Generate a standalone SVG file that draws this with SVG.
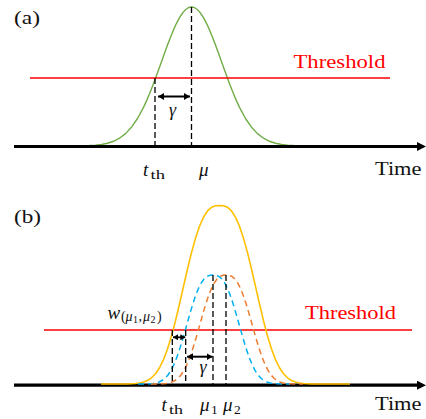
<svg xmlns="http://www.w3.org/2000/svg" width="426" height="419" viewBox="0 0 426 419">
<defs>
<style>
.axis{stroke:#000;stroke-width:3.2;fill:none;marker-end:url(#axhead)}
.thr{stroke:#ff0000;stroke-width:1.5;fill:none}
.vd{stroke:#000;stroke-width:1.3;stroke-dasharray:6 3;fill:none}
.dbl{stroke:#000;stroke-width:2;fill:none;marker-start:url(#dh);marker-end:url(#dh)}
.dbl2{stroke:#000;stroke-width:1.8;fill:none;marker-start:url(#dh2);marker-end:url(#dh2)}
.green{stroke:#70ad47;stroke-width:1.4;fill:none;stroke-linejoin:round}
.yellow{stroke:#ffc000;stroke-width:1.6;fill:none;stroke-linejoin:round}
.blue{stroke:#00b0f0;stroke-width:1.5;fill:none;stroke-dasharray:6 4}
.orange{stroke:#ed7d31;stroke-width:1.5;fill:none;stroke-dasharray:6 4}
.t{font-family:"Liberation Serif","Times New Roman",serif;fill:#111}
.it{font-style:italic}
.red{fill:#ff0000}
</style>
<marker id="axhead" markerUnits="userSpaceOnUse" viewBox="0 0 9 9" markerWidth="9" markerHeight="9" refX="1" refY="4.5" orient="auto">
<path d="M0,0 L9,4.5 L0,9 z" fill="#000"/>
</marker>
<marker id="dh" markerUnits="userSpaceOnUse" viewBox="0 0 6 7" markerWidth="6" markerHeight="7" refX="6" refY="3.5" orient="auto-start-reverse">
<path d="M0,0 L6,3.5 L0,7 z" fill="#000"/>
</marker>
<marker id="dh2" markerUnits="userSpaceOnUse" viewBox="0 0 5 6" markerWidth="5" markerHeight="6" refX="5" refY="3" orient="auto-start-reverse">
<path d="M0,0 L5,3 L0,6 z" fill="#000"/>
</marker>
<polyline id="bell" points="138,384 141,384 147,383.87 150,383.72 153,383.43 156,382.9 159,381.99 162,380.52 165,378.24 168,374.93 171,370.36 174,364.37 177,356.9 180,348.08 183,338.17 186,327.6 189,316.89 192,306.63 195,297.36 198,289.52 201,283.38 204,279.05 207,276.43 210,275.24 213,275 216,275.24 219,276.43 222,279.05 225,283.38 228,289.52 231,297.36 234,306.63 237,316.89 240,327.6 243,338.17 246,348.08 249,356.9 252,364.37 255,370.36 258,374.93 261,378.24 264,380.52 267,381.99 270,382.9 273,383.43 276,383.72 279,383.87 285,384 290,384"/>
</defs>

<g id="panel-a">
  <text class="t" x="14" y="23.5" font-size="19" textLength="26" lengthAdjust="spacingAndGlyphs">(a)</text>
  <polyline id="curve-a" class="green" points="77.5,145.9 83.5,145.79 89.5,145.57 95.5,145.17 101.5,144.46 107.5,143.24 113.5,141.27 119.5,138.2 125.5,133.64 131.5,127.19 137.5,118.49 143.5,107.35 146.5,100.87 149.5,93.83 152.5,86.29 155.5,78.34 158.5,70.1 161.5,61.69 164.5,53.29 167.5,45.07 170.5,37.2 173.5,29.9 176.5,23.33 179.5,17.69 181.5,14.51 183.5,11.86 185.5,9.75 187.5,8.23 189.5,7.31 191.5,7 193.5,7.31 195.5,8.23 197.5,9.75 199.5,11.86 201.5,14.51 203.5,17.69 206.5,23.33 209.5,29.9 212.5,37.2 215.5,45.07 218.5,53.29 221.5,61.69 224.5,70.1 227.5,78.34 230.5,86.29 233.5,93.83 236.5,100.87 239.5,107.35 245.5,118.49 251.5,127.19 257.5,133.64 263.5,138.2 269.5,141.27 275.5,143.24 281.5,144.46 287.5,145.17 293.5,145.57 299.5,145.79 305.5,145.9"/>
  <line id="threshold-a" class="thr" x1="30" y1="78" x2="390" y2="78"/>
  <text class="t red" x="293.5" y="68.3" font-size="18" textLength="92" lengthAdjust="spacingAndGlyphs">Threshold</text>
  <line id="axis-a" class="axis" x1="14" y1="146.5" x2="418" y2="146.5"/>
  <text class="t" x="375" y="175" font-size="18" textLength="46.5" lengthAdjust="spacingAndGlyphs">Time</text>
  <g id="connectors-a">
    <line class="vd" x1="155" y1="78" x2="155" y2="146"/>
    <line class="vd" x1="191.5" y1="7" x2="191.5" y2="146"/>
    <line class="dbl" x1="158" y1="96.5" x2="190" y2="96.5"/>
  </g>
  <text class="t it" x="169" y="116" font-size="18">γ</text>
  <text class="t" y="176"><tspan class="it" x="143" font-size="19">t</tspan><tspan x="150.5" dy="2.5" font-size="13.5" textLength="14.5" lengthAdjust="spacingAndGlyphs">th</tspan></text>
  <text class="t it" x="199" y="176" font-size="19">μ</text>
</g>

<g id="panel-b">
  <text class="t" x="14" y="222.5" font-size="19" textLength="27" lengthAdjust="spacingAndGlyphs">(b)</text>
  <line id="axis-b" class="axis" x1="14" y1="385.2" x2="418" y2="385.2"/>
  <line id="threshold-b" class="thr" x1="44" y1="330" x2="412" y2="330"/>
  <polyline id="curve-sum" class="yellow" points="101,384 127.5,384 131.5,383.79 135.5,383.53 139.5,383.03 143.5,382.09 147.5,380.47 151.5,377.81 155.5,373.71 159.5,367.77 163.5,359.61 167.5,349 171.5,335.96 175.5,320.76 179.5,303.98 183.5,286.4 187.5,268.95 191.5,252.59 195.5,238.15 199.5,226.23 203.5,217.17 207.5,210.96 211.5,207.35 215.5,205.79 219.5,205.5 223.5,205.79 227.5,207.35 231.5,210.96 235.5,217.17 239.5,226.23 243.5,238.15 247.5,252.59 251.5,268.95 255.5,286.4 259.5,303.98 263.5,320.76 267.5,335.96 271.5,349 275.5,359.61 279.5,367.77 283.5,373.71 287.5,377.81 291.5,380.47 295.5,382.09 299.5,383.03 303.5,383.53 307.5,383.79 311.5,384 350,384"/>
  <use id="curve-mu1" href="#bell" class="blue"/>
  <use id="curve-mu2" href="#bell" class="orange" transform="translate(13,0)"/>
  <text class="t red" x="305" y="319" font-size="18" textLength="91" lengthAdjust="spacingAndGlyphs">Threshold</text>
  <text class="t" x="375" y="409.5" font-size="18" textLength="46.5" lengthAdjust="spacingAndGlyphs">Time</text>
  <g id="connectors-b">
    <line class="vd" x1="172.3" y1="330" x2="172.3" y2="385"/>
    <line class="vd" x1="185.7" y1="330" x2="185.7" y2="385"/>
    <line class="vd" x1="213" y1="275" x2="213" y2="385"/>
    <line class="vd" x1="226" y1="275" x2="226" y2="385"/>
    <line class="dbl2" x1="173" y1="337.3" x2="185.3" y2="337.3"/>
    <line class="dbl" x1="187" y1="356.7" x2="212.5" y2="356.7"/>
  </g>
  <text class="t it" x="199.5" y="372.5" font-size="18">γ</text>
  <text class="t" y="318.5"><tspan class="it" x="107.5" font-size="19">w</tspan><tspan x="121" dy="2.5" font-size="14">(</tspan><tspan class="it" x="125.5" font-size="14">μ</tspan><tspan x="133" dy="2" font-size="10">1</tspan><tspan x="138.5" dy="-2" font-size="14">,</tspan><tspan class="it" x="143" font-size="14">μ</tspan><tspan x="150.5" dy="2" font-size="10">2</tspan><tspan x="157" dy="-2" font-size="14">)</tspan></text>
  <text class="t" y="411"><tspan class="it" x="161.5" font-size="19">t</tspan><tspan x="169" dy="2.5" font-size="13.5" textLength="14" lengthAdjust="spacingAndGlyphs">th</tspan></text>
  <text class="t" y="411"><tspan class="it" x="200" font-size="19">μ</tspan><tspan x="211" dy="3" font-size="13.5">1</tspan></text>
  <text class="t" y="411"><tspan class="it" x="223" font-size="19">μ</tspan><tspan x="234" dy="3" font-size="13.5">2</tspan></text>
</g>
</svg>
